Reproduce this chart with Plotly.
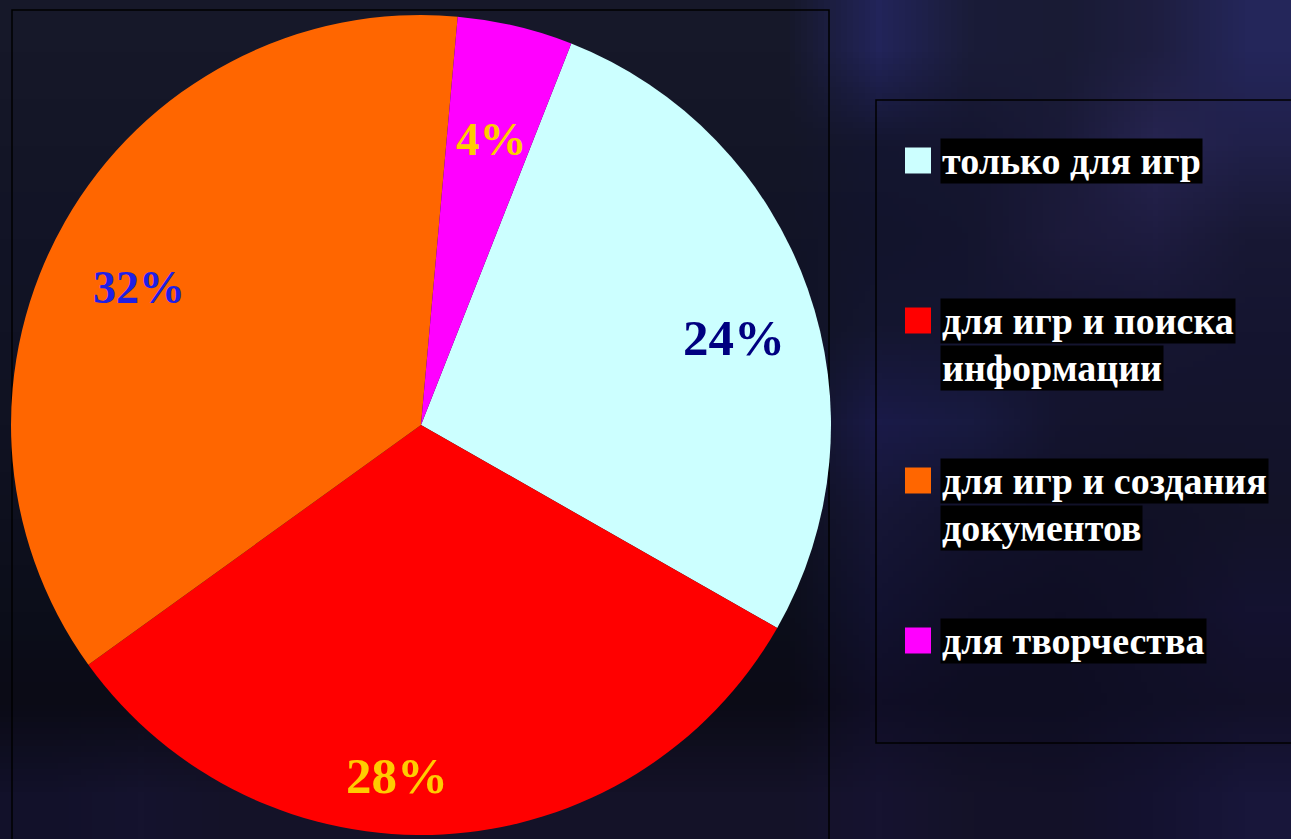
import base64
import struct
import zlib

import plotly.graph_objects as go

# ---- data -------------------------------------------------------------
categories = [
    "только для игр",
    "для игр и поиска<br>информации",
    "для игр и создания<br>документов",
    "для творчества",
]
values = [24, 28, 32, 4]
slice_colors = ["#ccffff", "#ff0000", "#ff6600", "#ff00ff"]

# ---- value label styling (pixel centres, colours, sizes) ---------------
label_px = [(734, 338), (397, 776), (139, 288), (491, 139)]
label_colors = ["#000080", "#ffcc00", "#1f1fe6", "#ffcc00"]
label_sizes = [51, 51, 46, 47]

W, H = 1291, 839
SERIF = "Liberation Serif, Times New Roman, serif"


def px(x, y):
    """Pixel position -> paper coordinates."""
    return x / W, 1 - y / H


# ---- soft night-sky backdrop as a tiny stretched PNG -------------------
def hex_rgb(h):
    h = h.lstrip("#")
    return tuple(int(h[i:i + 2], 16) for i in (0, 2, 4))


left_col = ["#161829", "#141627", "#121426", "#111324", "#101222",
            "#0e101e", "#0c0e1a", "#0b0b16"]
right_cols = [
    ["#22245a", "#1a1c38", "#191b34", "#1e1e40", "#24265a"],
    ["#141630", "#151630", "#1a1a38", "#262450", "#20204a"],
    ["#12142c", "#14152e", "#1c1a3a", "#1e1c40", "#181834"],
    ["#141630", "#141530", "#151530", "#161632", "#151530"],
    ["#1a1a48", "#181a40", "#14142e", "#14142c", "#14142c"],
    ["#161636", "#12122c", "#111128", "#111126", "#131328"],
    ["#121230", "#100f26", "#0f0e24", "#111028", "#141230"],
    ["#100e26", "#0e0d22", "#0e0d22", "#100f26", "#121028"],
]
sky = [[c] * 9 + r for c, r in zip(left_col, right_cols)]
sky.append(["#12112a", "#15132e", "#141228", "#141228", "#141228",
            "#141228", "#141228", "#141228", "#141228", "#161330",
            "#141228", "#131128", "#141230", "#18163a"])


def png_uri(grid):
    h, w = len(grid), len(grid[0])
    raw = b"".join(
        b"\x00" + b"".join(bytes(hex_rgb(c)) for c in row) for row in grid
    )

    def chunk(tag, data):
        return (struct.pack(">I", len(data)) + tag + data
                + struct.pack(">I", zlib.crc32(tag + data) & 0xFFFFFFFF))

    png = (b"\x89PNG\r\n\x1a\n"
           + chunk(b"IHDR", struct.pack(">IIBBBBB", w, h, 8, 2, 0, 0, 0))
           + chunk(b"IDAT", zlib.compress(raw, 9))
           + chunk(b"IEND", b""))
    return "data:image/png;base64," + base64.b64encode(png).decode()


# ---- pie ---------------------------------------------------------------
fig = go.Figure(
    go.Pie(
        labels=categories,
        values=values,
        sort=False,
        direction="clockwise",
        rotation=21.5,
        marker=dict(colors=slice_colors, line=dict(width=0)),
        textinfo="none",
        hoverinfo="label+value",
        showlegend=False,
        domain=dict(x=[11 / W, 831 / W], y=[3 / H, 825 / H]),
    )
)

annotations = []
# value labels on the slices
for v, (lx, ly), c, s in zip(values, label_px, label_colors, label_sizes):
    x, y = px(lx, ly)
    annotations.append(dict(
        x=x, y=y, xref="paper", yref="paper", xanchor="center",
        yanchor="middle", showarrow=False, text=f"<b>{v}%</b>",
        font=dict(family=SERIF, size=s, color=c),
    ))

# legend: coloured squares plus white captions on black strips
shapes = [
    dict(type="rect", xref="paper", yref="paper",
         x0=12 / W, x1=829 / W, y0=-0.01, y1=1 - 10 / H,
         line=dict(color="#000000", width=1.5), layer="below"),
    dict(type="rect", xref="paper", yref="paper",
         x0=876 / W, x1=1.01, y0=1 - 743 / H, y1=1 - 100 / H,
         line=dict(color="#000000", width=1.5), layer="below"),
]
row0, row_step, line_step = 160.5, 160, 47.5
for i, (cat, col) in enumerate(zip(categories, slice_colors)):
    yc = row0 + i * row_step
    shapes.append(dict(
        type="rect", xref="paper", yref="paper",
        x0=905 / W, x1=931 / W, y0=1 - (yc + 13) / H, y1=1 - (yc - 13) / H,
        fillcolor=col, line=dict(width=0),
    ))
    for j, line in enumerate(cat.split("<br>")):
        x, y = px(940, yc + j * line_step)
        annotations.append(dict(
            x=x, y=y, xref="paper", yref="paper", xanchor="left",
            yanchor="middle", showarrow=False, text=f"<b>{line}</b>",
            font=dict(family=SERIF, size=38, color="#ffffff"),
            bgcolor="#000000", borderpad=1,
        ))

fig.update_layout(
    width=W, height=H,
    margin=dict(l=0, r=0, t=0, b=0),
    paper_bgcolor="#121426",
    plot_bgcolor="rgba(0,0,0,0)",
    annotations=annotations,
    shapes=shapes,
    images=[dict(
        source=png_uri(sky), xref="paper", yref="paper", x=0, y=1,
        sizex=1, sizey=1, xanchor="left", yanchor="top",
        sizing="stretch", layer="below",
    )],
)

fig.write_html("out.html")
